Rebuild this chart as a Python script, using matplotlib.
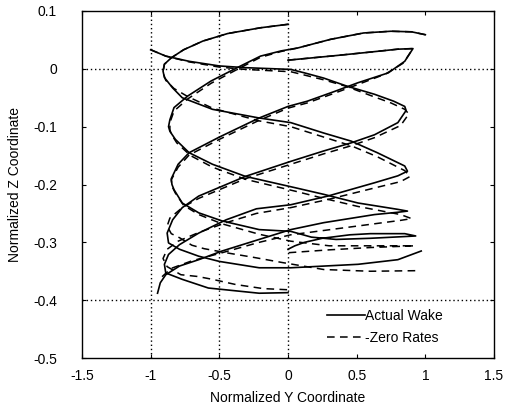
import matplotlib
matplotlib.use("Agg")
import matplotlib.pyplot as plt

plt.rcParams['font.family'] = ['Liberation Sans', 'DejaVu Sans']
plt.rcParams['axes.unicode_minus'] = False

# ---- Actual Wake (solid) traces: normalized Y, normalized Z ----
aw1_y = [0.00, -0.20, -0.44, -0.62, -0.76, -0.85, -0.90, -0.91, -0.90, -0.84, -0.77, -0.55, -0.21, 0.02, 0.26, 0.46, 0.65, 0.85, 0.87, 0.80, 0.63, 0.29, 0.02, -0.23, -0.45, -0.65, -0.79, -0.87, -0.90, -0.89, -0.77, -0.58, -0.21, 0.00]
aw1_z = [0.077, 0.071, 0.061, 0.048, 0.033, 0.019, 0.008, -0.004, -0.015, -0.033, -0.050, -0.070, -0.085, -0.093, -0.111, -0.125, -0.145, -0.168, -0.177, -0.185, -0.197, -0.220, -0.235, -0.242, -0.261, -0.284, -0.304, -0.321, -0.338, -0.353, -0.364, -0.379, -0.388, -0.387]

aw2_y = [1.00, 0.90, 0.75, 0.55, 0.31, 0.07, -0.05, -0.20, -0.37, -0.56, -0.73, -0.83, -0.86, -0.87, -0.86, -0.82, -0.72, -0.55, -0.31, 0.06, 0.26, 0.51, 0.80, 0.87, 0.80, 0.63, 0.26, 0.02, -0.21, -0.48, -0.65, -0.79, -0.89, -0.93, -0.95]
aw2_z = [0.059, 0.064, 0.065, 0.062, 0.051, 0.036, 0.031, 0.022, 0.002, -0.021, -0.047, -0.067, -0.088, -0.100, -0.108, -0.122, -0.145, -0.165, -0.186, -0.206, -0.217, -0.232, -0.243, -0.246, -0.248, -0.252, -0.266, -0.278, -0.295, -0.315, -0.330, -0.341, -0.356, -0.370, -0.388]

aw3_y = [-1.00, -0.89, -0.72, -0.50, -0.31, 0.02, 0.12, 0.26, 0.43, 0.63, 0.77, 0.85, 0.86, 0.80, 0.63, 0.46, 0.26, 0.02, -0.31, -0.48, -0.65, -0.77, -0.84, -0.88, -0.87, -0.79, -0.65, -0.50, -0.21, 0.02, 0.51, 0.80, 0.97]
aw3_z = [0.033, 0.022, 0.013, 0.005, 0.002, -0.001, -0.007, -0.016, -0.030, -0.044, -0.056, -0.065, -0.072, -0.093, -0.114, -0.128, -0.142, -0.160, -0.186, -0.203, -0.220, -0.240, -0.261, -0.284, -0.301, -0.312, -0.324, -0.333, -0.344, -0.344, -0.338, -0.330, -0.315]

aw4_y = [0.00, 0.31, 0.56, 0.80, 0.91, 0.85, 0.73, 0.51, 0.34, 0.14, 0.00, -0.21, -0.50, -0.72, -0.80, -0.85, -0.845, -0.83, -0.77, -0.65, -0.48, -0.21, 0.02, 0.17, 0.35, 0.60, 0.85, 0.93, 0.85, 0.60, 0.45, 0.25, 0.12, 0.05, 0.00]
aw4_z = [0.015, 0.022, 0.028, 0.034, 0.035, 0.013, -0.007, -0.024, -0.039, -0.056, -0.065, -0.085, -0.118, -0.145, -0.165, -0.190, -0.200, -0.209, -0.232, -0.249, -0.263, -0.278, -0.281, -0.291, -0.295, -0.293, -0.290, -0.289, -0.285, -0.285, -0.287, -0.293, -0.300, -0.306, -0.312]

# ---- Zero Rates (dashed) traces ----
zr1_y = [0.00, -0.20, -0.44, -0.62, -0.76, -0.85, -0.90, -0.91, -0.89, -0.83, -0.73, -0.55, -0.21, 0.02, 0.26, 0.46, 0.65, 0.85, 0.89, 0.82, 0.63, 0.29, 0.02, -0.23, -0.45, -0.65, -0.80, -0.88, -0.91, -0.88, -0.78, -0.66, -0.55, -0.38, -0.18, 0.00]
zr1_z = [0.077, 0.071, 0.061, 0.048, 0.033, 0.019, 0.008, -0.006, -0.020, -0.034, -0.048, -0.068, -0.090, -0.100, -0.118, -0.133, -0.152, -0.176, -0.186, -0.195, -0.206, -0.226, -0.240, -0.250, -0.266, -0.283, -0.298, -0.312, -0.328, -0.342, -0.356, -0.359, -0.364, -0.373, -0.380, -0.382]

zr2_y = [1.00, 0.90, 0.75, 0.55, 0.31, 0.07, -0.05, -0.20, -0.37, -0.56, -0.73, -0.83, -0.86, -0.86, -0.85, -0.81, -0.71, -0.55, -0.31, 0.06, 0.26, 0.51, 0.82, 0.90, 0.82, 0.50, 0.02, -0.21, -0.48, -0.70, -0.85, -0.92]
zr2_z = [0.059, 0.064, 0.065, 0.062, 0.051, 0.036, 0.030, 0.020, -0.001, -0.025, -0.052, -0.073, -0.093, -0.105, -0.113, -0.128, -0.150, -0.170, -0.191, -0.212, -0.224, -0.238, -0.252, -0.259, -0.262, -0.272, -0.287, -0.300, -0.318, -0.332, -0.345, -0.360]

zr3_y = [-1.00, -0.89, -0.72, -0.50, -0.31, 0.02, 0.09, 0.26, 0.42, 0.60, 0.75, 0.85, 0.88, 0.82, 0.63, 0.46, 0.26, 0.02, -0.31, -0.48, -0.65, -0.77, -0.86, -0.88, -0.85, -0.79, -0.70, -0.61, -0.45, -0.25, -0.04, 0.26, 0.60, 0.94]
zr3_z = [0.033, 0.022, 0.012, 0.003, -0.001, -0.005, -0.009, -0.019, -0.030, -0.046, -0.059, -0.070, -0.078, -0.098, -0.119, -0.133, -0.147, -0.165, -0.190, -0.207, -0.224, -0.240, -0.258, -0.272, -0.285, -0.292, -0.305, -0.311, -0.318, -0.326, -0.335, -0.347, -0.350, -0.349]

zr4_y = [0.00, 0.31, 0.56, 0.80, 0.91, 0.84, 0.71, 0.51, 0.34, 0.14, 0.00, -0.21, -0.50, -0.72, -0.80, -0.85, -0.845, -0.82, -0.76, -0.65, -0.48, -0.21, 0.02, 0.30, 0.60, 0.92, 0.60, 0.30, 0.00]
zr4_z = [0.015, 0.022, 0.028, 0.034, 0.035, 0.010, -0.009, -0.027, -0.042, -0.059, -0.068, -0.089, -0.122, -0.149, -0.170, -0.192, -0.203, -0.215, -0.236, -0.252, -0.268, -0.286, -0.298, -0.306, -0.306, -0.306, -0.309, -0.313, -0.318]

x_ticks = [-1.5, -1, -0.5, 0, 0.5, 1, 1.5]
x_tick_labels = ["-1.5", "-1", "-0.5", "0", "0.5", "1", "1.5"]
y_ticks = [0.1, 0, -0.1, -0.2, -0.3, -0.4, -0.5]
y_tick_labels = ["0.1", "0", "-0.1", "-0.2", "-0.3", "-0.4", "-0.5"]
x_grid = [-1, -0.5, 0]
y_grid = [0, -0.4]

FS = 10

fig = plt.figure(figsize=(5.05, 4.12), dpi=100)
ax = fig.add_axes([82/505, 1-358/412, (494-82)/505, (358-11)/412])

for gx in x_grid:
    ax.axvline(gx, color='black', lw=1.0, ls=(0, (1, 2)), zorder=1)
for gy in y_grid:
    ax.axhline(gy, color='black', lw=1.0, ls=(0, (1, 2)), zorder=1)

dash = (0, (5, 3.5))
zr = [(zr1_y, zr1_z), (zr2_y, zr2_z), (zr3_y, zr3_z), (zr4_y, zr4_z)]
aw = [(aw1_y, aw1_z), (aw2_y, aw2_z), (aw3_y, aw3_z), (aw4_y, aw4_z)]
for i, (yy, zz) in enumerate(zr):
    ax.plot(yy, zz, color='black', lw=1.1, ls=dash, zorder=2,
            label='-Zero Rates' if i == 0 else None)
for i, (yy, zz) in enumerate(aw):
    ax.plot(yy, zz, color='black', lw=1.2, ls='-', zorder=3,
            label='Actual Wake' if i == 0 else None)

ax.set_xlim(-1.5, 1.5)
ax.set_ylim(-0.5, 0.1)
ax.set_xticks(x_ticks)
ax.set_xticklabels(x_tick_labels)
ax.set_yticks(y_ticks)
ax.set_yticklabels(y_tick_labels)
ax.tick_params(direction='in', length=3, width=0.8, labelsize=FS,
               top=True, right=True, colors='black')
ax.tick_params(axis='x', pad=8)
ax.tick_params(axis='y', pad=18)
for s in ax.spines.values():
    s.set_linewidth(1.0)

ax.set_xlabel('Normalized Y Coordinate', fontsize=FS, labelpad=6)
ax.set_ylabel('Normalized Z Coordinate', fontsize=FS, labelpad=8)

handles, labels = ax.get_legend_handles_labels()
order = [labels.index('Actual Wake'), labels.index('-Zero Rates')]
leg = ax.legend([handles[k] for k in order], ['Actual Wake', '-Zero Rates'],
                loc='upper left', bbox_to_anchor=(320/505, 1-302/412),
                bbox_transform=fig.transFigure, frameon=False,
                handlelength=2.75, handletextpad=0.0, borderpad=0,
                labelspacing=0.55, fontsize=FS)

fig.savefig('out.png', dpi=100)
